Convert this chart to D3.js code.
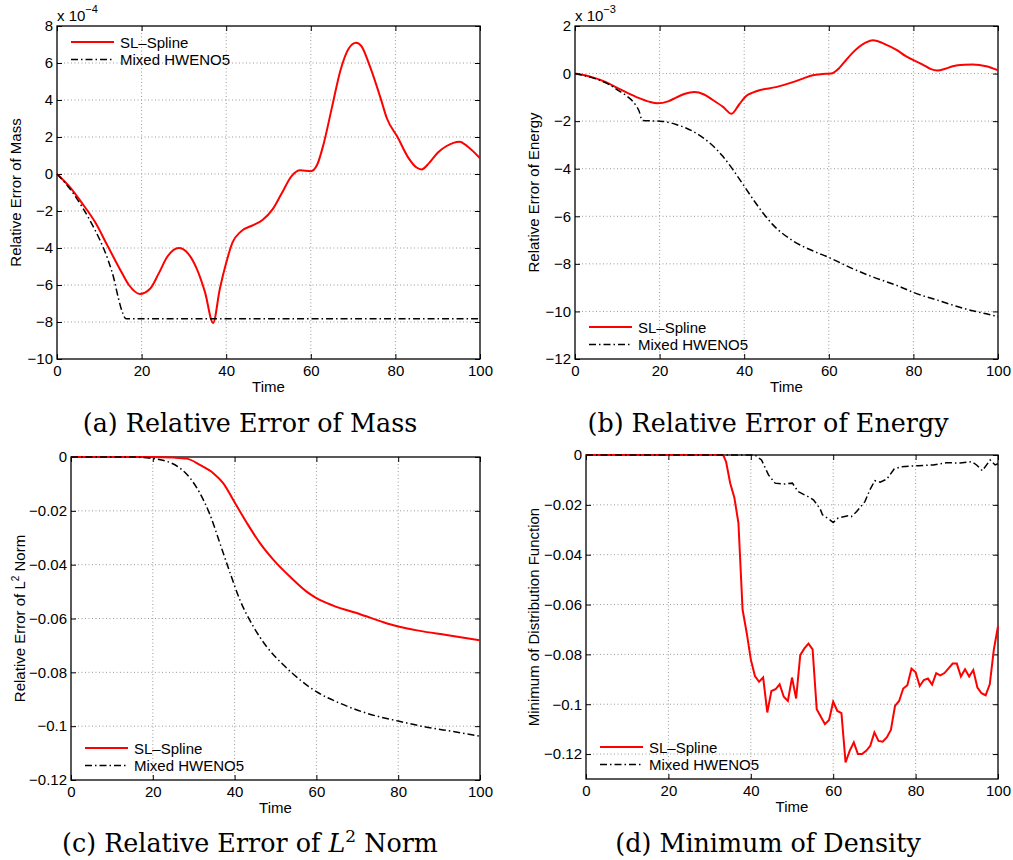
<!DOCTYPE html>
<html>
<head>
<meta charset="utf-8">
<script src="https://cdn.jsdelivr.net/npm/d3@7"></script>
<style>
body { margin: 0; background: #fff; }
text { font-family: "Liberation Sans", Arial, sans-serif; fill: #000; }
.caption { font-family: "DejaVu Serif", serif; }
</style>
</head>
<body>
<svg id="fig" width="1013" height="860"></svg>
<script>
// legend + axis text
var seriesNames = ["SL\u2013Spline", "Mixed HWENO5"];
var timeTicks = [0, 20, 40, 60, 80, 100];

// y ticks for each panel
var massTicks = [-10, -8, -6, -4, -2, 0, 2, 4, 6, 8];
var energyTicks = [-12, -10, -8, -6, -4, -2, 0, 2];
var l2Ticks = [-0.12, -0.1, -0.08, -0.06, -0.04, -0.02, 0];
var minTicks = [-0.12, -0.1, -0.08, -0.06, -0.04, -0.02, 0];

// (a) relative error of mass, units of 1e-4 : [time, value]
var massSpline = [[0,0],[3,-0.7],[6,-1.6],[9,-2.6],[12,-3.9],[15,-5.2],[17,-6.0],[19.6,-6.48],[22,-6.2],[24,-5.4],[26,-4.5],[28.8,-4.0],[31,-4.3],[33,-5.1],[35,-6.4],[36.9,-8.05],[38.5,-6.2],[40,-4.8],[41.5,-3.7],[43.5,-3.1],[46.5,-2.75],[48.5,-2.5],[51,-1.9],[53,-1.1],[55.5,-0.1],[57.5,0.2],[60,0.15],[61.5,0.5],[63,1.6],[65,3.6],[67,5.6],[69,6.8],[70.7,7.1],[72,6.9],[74,5.8],[76.5,4.1],[78,3.0],[80.5,2.0],[83,0.9],[85,0.35],[86.2,0.25],[88,0.6],[90,1.15],[92,1.5],[95.2,1.75],[97,1.5],[100,0.85]];
var massHweno = [[0,0],[2,-0.5],[4,-1.1],[6,-1.8],[8,-2.6],[10,-3.5],[12,-4.6],[13.5,-5.7],[14.5,-6.7],[15.5,-7.5],[16.3,-7.82],[100,-7.82]];

// (b) relative error of energy, units of 1e-3
var energySpline = [[0,0],[4,-0.15],[7.3,-0.36],[10,-0.6],[12.5,-0.82],[15,-1.02],[17.5,-1.18],[19.5,-1.25],[22,-1.17],[24,-1.0],[26,-0.85],[28.2,-0.78],[30.5,-0.88],[32.5,-1.1],[35,-1.4],[37,-1.69],[38.8,-1.3],[40.4,-0.95],[42,-0.8],[43.6,-0.7],[47.5,-0.57],[51.5,-0.36],[54,-0.2],[56.2,-0.07],[58.5,-0.02],[60.5,0],[62.5,0.24],[64,0.55],[65.6,0.87],[68.8,1.31],[70.4,1.4],[73.5,1.22],[76,1.0],[78.2,0.73],[82.2,0.38],[84,0.2],[85.7,0.13],[87.5,0.2],[89.3,0.31],[92,0.37],[94,0.38],[97.2,0.31],[100,0.14]];
var energyHweno = [[0,0],[4,-0.17],[7.3,-0.39],[10.5,-0.74],[12.5,-0.98],[14.4,-1.34],[15.2,-1.6],[15.6,-1.86],[16,-1.97],[18,-1.99],[20.7,-2.01],[23.9,-2.14],[27.8,-2.42],[31.8,-2.91],[34.9,-3.47],[37.3,-4.03],[39.6,-4.63],[42,-5.26],[44.4,-5.85],[46.7,-6.34],[51.5,-7.03],[56.2,-7.45],[60,-7.73],[65.6,-8.2],[70.4,-8.55],[76.7,-8.95],[80,-9.2],[86.1,-9.55],[92.4,-9.9],[97.2,-10.1],[100,-10.22]];

// (c) relative error of L2 norm
var l2Spline = [[0,0],[20,0],[25,-0.0002],[28.3,-0.0006],[31.5,-0.0029],[34.8,-0.006],[37.2,-0.0097],[40.1,-0.0171],[43,-0.0245],[46.2,-0.032],[49.5,-0.0382],[53.5,-0.0444],[57.6,-0.05],[60,-0.0524],[64.1,-0.0552],[70.7,-0.0584],[76.4,-0.0614],[80,-0.063],[85.3,-0.0646],[91.8,-0.0661],[100,-0.0681]];
var l2Hweno = [[0,0],[15,0],[20.1,-0.0006],[23.4,-0.0016],[26.6,-0.0041],[29.1,-0.0078],[31.5,-0.0134],[34,-0.0215],[36.4,-0.032],[38.9,-0.0431],[41.3,-0.0531],[44.6,-0.063],[47.8,-0.0704],[51.9,-0.0772],[56,-0.0828],[60,-0.0872],[65.8,-0.0915],[72.3,-0.0952],[80,-0.0981],[87,-0.1004],[93.5,-0.102],[100,-0.1037]];

// (d) minimum of distribution function
var minSpline = [[0,0],[33.3,0],[34,-0.0027],[35,-0.0113],[36,-0.017],[37,-0.0273],[38,-0.062],[39,-0.0713],[40,-0.082],[41,-0.0887],[42,-0.091],[43,-0.0893],[44,-0.1033],[45,-0.0947],[46,-0.094],[47,-0.092],[48,-0.097],[49,-0.0987],[50,-0.0893],[51,-0.0977],[52,-0.0803],[53,-0.0776],[54,-0.0757],[55,-0.078],[56,-0.102],[57,-0.105],[58,-0.108],[59,-0.1063],[60,-0.099],[61,-0.1027],[62,-0.1036],[63,-0.1233],[64,-0.1187],[65,-0.1153],[66,-0.12],[67,-0.12],[68,-0.1187],[69,-0.1167],[70,-0.1113],[71,-0.1147],[72,-0.115],[73,-0.1133],[74,-0.1103],[75,-0.1007],[76,-0.0987],[77,-0.0937],[78,-0.0924],[79,-0.0857],[80,-0.0872],[81,-0.0927],[82,-0.0903],[83,-0.0897],[84,-0.0921],[85,-0.0875],[86,-0.0884],[87,-0.0875],[88,-0.0856],[89,-0.0837],[90,-0.0837],[91,-0.0889],[92,-0.086],[93,-0.0889],[94,-0.0863],[95,-0.0933],[96,-0.0956],[97,-0.0964],[98,-0.092],[99,-0.078],[100,-0.0687]];
var minHweno = [[0,0],[41,0],[42.6,-0.002],[44.3,-0.008],[45.9,-0.0113],[47.9,-0.0117],[50.1,-0.0113],[51.5,-0.0147],[53.9,-0.0167],[55.2,-0.018],[56.8,-0.0215],[57.4,-0.024],[59.2,-0.026],[60,-0.0271],[61.2,-0.0253],[63.6,-0.0244],[64.4,-0.0247],[65.7,-0.0227],[67.7,-0.0187],[68.9,-0.014],[70.1,-0.0103],[71.4,-0.0109],[73,-0.0097],[74.8,-0.0056],[76.6,-0.0047],[80.7,-0.0043],[84.3,-0.004],[87.5,-0.0031],[90.8,-0.0032],[93.6,-0.0027],[94.8,-0.004],[96.2,-0.0063],[98.1,-0.002],[99.3,-0.004],[100,-0.0035]];

var svg = d3.select("#fig");
var minus = function (d) { return d < 0 ? "\u2212" + Math.abs(d) : String(d); };

function panel(p) {
    var x = d3.scaleLinear().domain([0, 100]).range([p.left, p.right]);
    var y = d3.scaleLinear().domain(p.yDomain).range([p.bottom, p.top]);
    var g = svg.append("g");

    // dotted grid
    g.selectAll(".vg").data(timeTicks.slice(1, -1)).enter().append("line")
        .attr("x1", function (d) { return x(d); }).attr("x2", function (d) { return x(d); })
        .attr("y1", p.top).attr("y2", p.bottom)
        .attr("stroke", "#9a9a9a").attr("stroke-width", 1).attr("stroke-dasharray", "1,2.5");
    g.selectAll(".hg").data(p.yTicks.filter(function (d) { return y(d) > p.top + 1 && y(d) < p.bottom - 1; })).enter().append("line")
        .attr("y1", function (d) { return y(d); }).attr("y2", function (d) { return y(d); })
        .attr("x1", p.left).attr("x2", p.right)
        .attr("stroke", "#9a9a9a").attr("stroke-width", 1).attr("stroke-dasharray", "1,2.5");

    // axes with inward ticks on all four sides
    var fs = "15px";
    g.append("g").attr("transform", "translate(0," + p.bottom + ")")
        .call(d3.axisBottom(x).tickValues(timeTicks).tickSizeInner(-5).tickSizeOuter(0).tickPadding(6).tickFormat(d3.format("d")))
        .call(function (a) { a.selectAll("text").style("font-size", fs); });
    g.append("g").attr("transform", "translate(0," + p.top + ")")
        .call(d3.axisTop(x).tickValues(timeTicks).tickSizeInner(-5).tickSizeOuter(0).tickFormat(""));
    g.append("g").attr("transform", "translate(" + p.left + ",0)")
        .call(d3.axisLeft(y).tickValues(p.yTicks).tickSizeInner(-5).tickSizeOuter(0).tickPadding(4).tickFormat(minus))
        .call(function (a) { a.selectAll("text").style("font-size", fs); });
    g.append("g").attr("transform", "translate(" + p.right + ",0)")
        .call(d3.axisRight(y).tickValues(p.yTicks).tickSizeInner(-5).tickSizeOuter(0).tickFormat(""));
    g.selectAll(".domain").remove();
    g.selectAll(".tick line").attr("stroke", "#000");

    g.append("rect").attr("x", p.left).attr("y", p.top)
        .attr("width", p.right - p.left).attr("height", p.bottom - p.top)
        .attr("fill", "none").attr("stroke", "#000").attr("stroke-width", 1.3);

    // lines
    var line = d3.line()
        .x(function (d) { return x(d[0]); })
        .y(function (d) { return y(d[1]); })
        .curve(p.curve);
    g.append("path").datum(p.spline).attr("d", line)
        .attr("fill", "none").attr("stroke", "#ff0000").attr("stroke-width", 2);
    g.append("path").datum(p.hweno).attr("d", line)
        .attr("fill", "none").attr("stroke", "#000").attr("stroke-width", 1.5)
        .attr("stroke-dasharray", "7,3,1.5,3");

    // legend (no box)
    var styles = [{c: "#ff0000", w: 2, dash: null}, {c: "#000", w: 1.5, dash: "7,3,1.5,3"}];
    seriesNames.forEach(function (name, i) {
        var ly = p.legY + i * 17.5;
        g.append("line").attr("x1", p.legX).attr("x2", p.legX + 43)
            .attr("y1", ly).attr("y2", ly)
            .attr("stroke", styles[i].c).attr("stroke-width", styles[i].w)
            .attr("stroke-dasharray", styles[i].dash);
        g.append("text").attr("x", p.legX + 49).attr("y", ly + 5.5)
            .style("font-size", fs).text(name);
    });

    // x label
    g.append("text").attr("x", (p.left + p.right) / 2).attr("y", p.bottom + 33)
        .attr("text-anchor", "middle").style("font-size", fs).text("Time");

    // y label
    var yl = g.append("text")
        .attr("transform", "translate(" + p.yLabX + "," + (p.top + p.bottom) / 2 + ") rotate(-90)")
        .attr("text-anchor", "middle").style("font-size", fs);
    p.yLabel(yl);

    // exponent
    if (p.expo) {
        var ex = g.append("text").attr("x", p.left).attr("y", p.top - 5).style("font-size", fs);
        ex.append("tspan").text("x 10");
        ex.append("tspan").attr("dy", -8).style("font-size", "11px").text(p.expo);
    }

    // caption
    var cap = g.append("text").attr("class", "caption")
        .attr("x", p.capX).attr("y", p.capY)
        .attr("text-anchor", "middle").style("font-size", "25.4px");
    p.caption(cap);
}

panel({
    left: 57, right: 480, top: 26, bottom: 359,
    yDomain: [-10, 8], yTicks: massTicks, spline: massSpline, hweno: massHweno,
    curve: d3.curveMonotoneX, legX: 71, legY: 42, yLabX: 21, expo: "\u22124",
    yLabel: function (t) { t.text("Relative Error of Mass"); },
    capX: 250, capY: 432,
    caption: function (t) { t.text("(a) Relative Error of Mass"); }
});
panel({
    left: 575, right: 998, top: 26, bottom: 359,
    yDomain: [-12, 2], yTicks: energyTicks, spline: energySpline, hweno: energyHweno,
    curve: d3.curveMonotoneX, legX: 589, legY: 327, yLabX: 539, expo: "\u22123",
    yLabel: function (t) { t.text("Relative Error of Energy"); },
    capX: 768, capY: 432,
    caption: function (t) { t.text("(b) Relative Error of Energy"); }
});
panel({
    left: 71, right: 480, top: 457, bottom: 780,
    yDomain: [-0.12, 0], yTicks: l2Ticks, spline: l2Spline, hweno: l2Hweno,
    curve: d3.curveMonotoneX, legX: 85, legY: 748, yLabX: 25, expo: null,
    yLabel: function (t) {
        t.append("tspan").text("Relative Error of L");
        t.append("tspan").attr("dy", -6).style("font-size", "10px").text("2");
        t.append("tspan").attr("dy", 6).text(" Norm");
    },
    capX: 250, capY: 852,
    caption: function (t) {
        t.append("tspan").text("(c) Relative Error of ");
        t.append("tspan").style("font-style", "italic").text("L");
        t.append("tspan").attr("dy", -10).style("font-size", "17px").text("2");
        t.append("tspan").attr("dy", 10).text(" Norm");
    }
});
panel({
    left: 586, right: 998, top: 455, bottom: 779,
    yDomain: [-0.13, 0], yTicks: minTicks, spline: minSpline, hweno: minHweno,
    curve: d3.curveLinear, legX: 600, legY: 747, yLabX: 539, expo: null,
    yLabel: function (t) { t.text("Minimum of Distribution Function"); },
    capX: 768, capY: 852,
    caption: function (t) { t.text("(d) Minimum of Density"); }
});
</script>
</body>
</html>
